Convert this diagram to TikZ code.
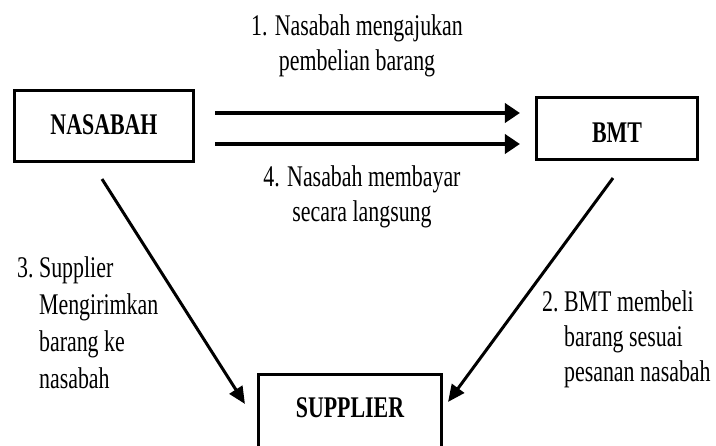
\documentclass[tikz,border=0pt]{standalone}
\usepackage{fontspec}
\setmainfont{Liberation Serif}[FakeStretch=0.73]
\usetikzlibrary{arrows.meta,calc}
\begin{document}
\begin{tikzpicture}[x=1pt,y=-1pt,
  every node/.style={inner sep=0pt},
  entity/.style={draw,line width=3.3pt,font=\fontsize{30}{37}\selectfont\bfseries,anchor=base},
  lbl/.style={font=\fontsize{30}{37}\selectfont},
  flow/.style={line width=4pt,-{Triangle[length=15pt,width=19pt]}},
  diag/.style={line width=3pt,-{Triangle[length=17pt,width=15pt]}}]
\clip (0,0) rectangle (716,446);
\useasboundingbox (0,0) rectangle (716,446);
% entities
\node[entity,minimum width=178.8pt,text height=44.4pt,text depth=26.4pt] (nas) at (104,135) {NASABAH};
\node[entity,minimum width=160.8pt,text height=44.7pt,text depth=17.1pt] (bmt) at (617,142.3) {BMT};
\node[entity,minimum width=182.8pt,text height=43.4pt,text depth=50pt] (sup) at (350,418) {SUPPLIER};
% flows
\draw[flow,shorten <=20pt,shorten >=15pt] (nas.east |- 0,113) -- (bmt.west |- 0,113);
\draw[flow,shorten <=20pt,shorten >=15pt] (nas.east |- 0,144) -- (bmt.west |- 0,144);
\draw[diag] ($(nas.south)+(-2,16)$) -- ($(sup.north west)+(-12,31)$);
\draw[diag] ($(bmt.south)+(-4,17)$) -- ($(sup.north east)+(5,29)$);
% labels
\node[lbl,anchor=base] (l1) at (357,36) {\fontsize{30}{35}\selectfont\begin{tabular}[t]{@{}c@{}}1. Nasabah mengajukan\\pembelian barang\end{tabular}};
\node[lbl,anchor=base] (l4) at (362,187) {\fontsize{30}{35}\selectfont\begin{tabular}[t]{@{}c@{}}4. Nasabah membayar\\secara langsung\end{tabular}};
\node[lbl,anchor=base west] (l3) at (17,278) {\begin{tabular}[t]{@{}l@{\ }l@{}}3. & Supplier\\ & Mengirimkan\\ & barang ke\\ & nasabah\end{tabular}};
\node[lbl,anchor=base west] (l2) at (542,312) {\fontsize{30}{35}\selectfont\begin{tabular}[t]{@{}l@{\ }l@{}}2. & BMT membeli\\ & barang sesuai\\ & pesanan nasabah\end{tabular}};
\end{tikzpicture}
\end{document}
